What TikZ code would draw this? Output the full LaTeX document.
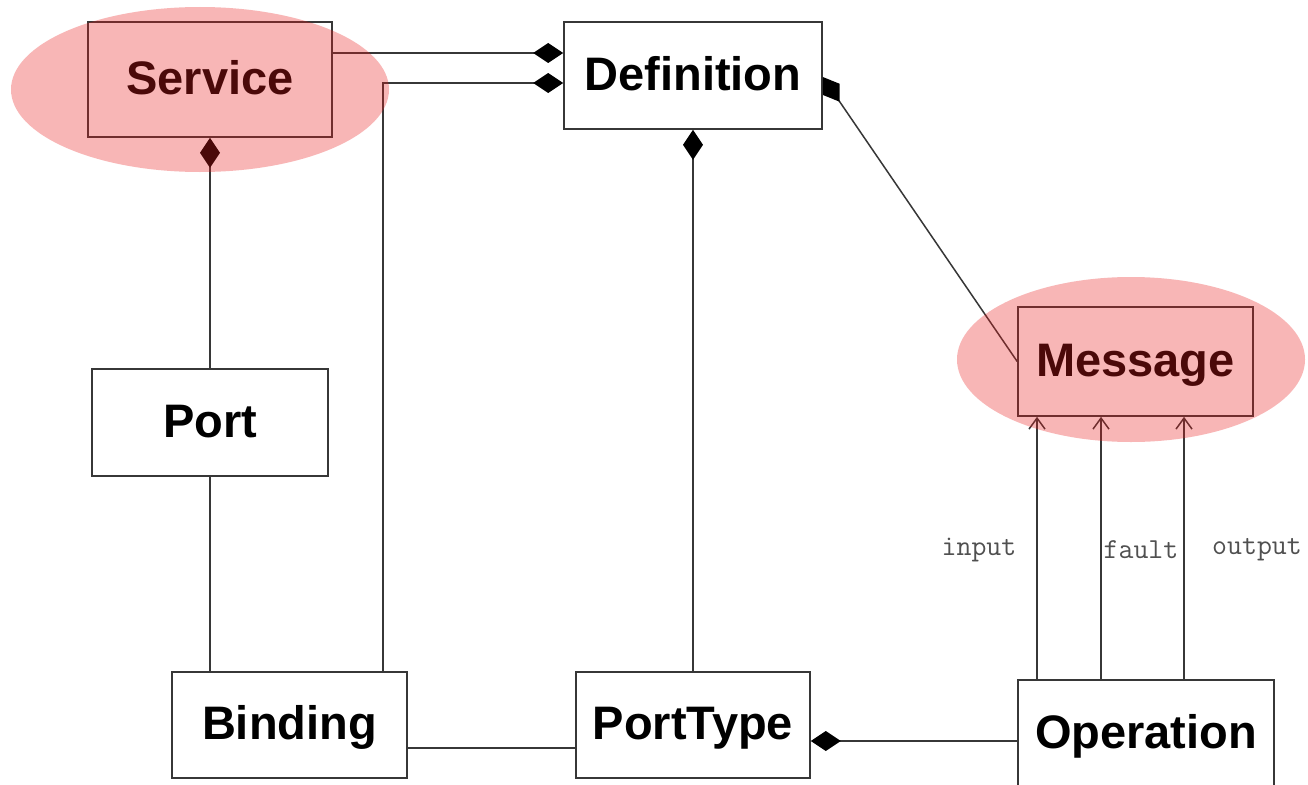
\documentclass[tikz,border=0pt]{standalone}
\usepackage{fontspec}
\setmainfont{Liberation Sans}
\usetikzlibrary{arrows.meta,shapes.geometric}
\definecolor{linec}{RGB}{55,55,55}
\definecolor{labc}{RGB}{80,80,80}
\tikzset{
  cls/.style={draw=linec, line width=1.6pt, fill=white, rectangle, inner sep=0pt,
    font=\bfseries\fontsize{47}{50}\selectfont, text height=34pt, text depth=5pt},
  conn/.style={draw=linec, line width=1.5pt},
  comp/.style={conn, -{Diamond[length=30pt,width=20pt,black]}},
  flow/.style={conn, -{Straight Barb[length=11pt,width=16pt,line width=1.5pt]}},
  lab/.style={font=\ttfamily\fontsize{29}{31}\selectfont, text=labc, inner sep=0pt},
  hl/.style={ellipse, fill={rgb,255:red,235;green,30;blue,30}, fill opacity=0.32, draw=none, inner sep=0pt}
}
\begin{document}
\begin{tikzpicture}[x=1pt,y=-1pt]
\clip (0,0) rectangle (1308,784);
\fill[white] (0,0) rectangle (1308,784);
% classes
\node[cls, minimum width=244pt, minimum height=115pt] (Service) at (210,79.5) {Service};
\node[cls, minimum width=258pt, minimum height=107pt] (Definition) at (693,75.5) {Definition};
\node[cls, minimum width=236pt, minimum height=107pt] (Port) at (210,422.5) {Port};
\node[cls, minimum width=235pt, minimum height=106pt] (Binding) at (289.5,725) {Binding};
\node[cls, minimum width=234pt, minimum height=106pt] (PortType) at (693,725) {PortType};
\node[cls, minimum width=235pt, minimum height=109pt] (Message) at (1135.5,361.5) {Message};
\node[cls, minimum width=256pt, minimum height=107pt] (Operation) at (1146,733.5) {Operation};
% connectors
\draw[comp] ([yshift=26.5pt]Service.east) -- ([yshift=22.5pt]Definition.west);
\draw[comp] ([xshift=93.5pt]Binding.north) |- ([yshift=-7.5pt]Definition.west);
\draw[comp] (Service.south |- Port.north) -- (Service.south);
\draw[conn] (Port.south) -- (Port.south |- Binding.north);
\draw[comp] (PortType.north) -- (Definition.south);
\draw[comp] (Message.west) -- ([yshift=-1.5pt]Definition.east);
\draw[conn] ([yshift=-23pt]Binding.east) -- ([yshift=-23pt]PortType.west);
\draw[comp] ([yshift=-7.5pt]Operation.west) -- ([yshift=-16pt]PortType.east);
\coordinate (oi) at ([xshift=-109pt]Operation.north);
\coordinate (of) at ([xshift=-45pt]Operation.north);
\coordinate (oo) at ([xshift=38pt]Operation.north);
\draw[flow] (oi) -- (oi |- Message.south);
\draw[flow] (of) -- (of |- Message.south);
\draw[flow] (oo) -- (oo |- Message.south);
% labels
\node[lab] (linput) at (979,550) {input};
\node[lab] (lfault) at (1141,550) {fault};
\node[lab] (loutput) at (1257,550) {output};
% highlights
\node[hl, minimum width=378pt, minimum height=165pt] (svhl) at (200,89.5) {};
\node[hl, minimum width=348pt, minimum height=165pt] (mshl) at (1131,359.5) {};
\end{tikzpicture}
\end{document}
